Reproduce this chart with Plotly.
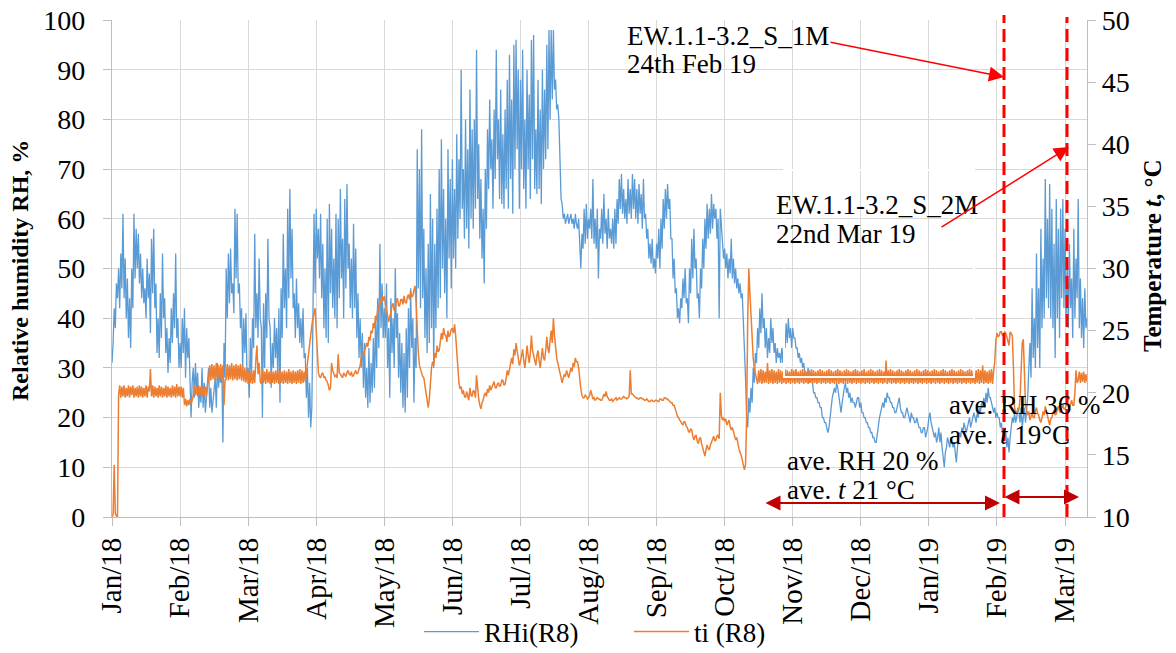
import pandas as pd
import plotly.graph_objects as go

# RHi(R8), %  - two readings a day, one block per 31-day tick interval
rh_jan18 = [31, 35, 42, 38, 47, 44, 50, 42, 53, 46, 61, 44, 52, 40, 48, 36, 44, 34, 50, 42,
            61, 48, 58, 50, 57, 47, 53, 44, 50, 43, 46, 40, 52, 44, 49, 37, 56, 45, 58, 42,
            47, 33, 40, 32, 45, 36, 53, 40, 44, 33, 38, 29, 36, 31, 42, 35, 45, 38, 53, 36, 40, 30]
rh_feb18 = [35, 30, 40, 33, 42, 28, 38, 32, 36, 26, 20, 27, 30, 24, 31, 25, 29, 22, 26, 23,
            30, 22, 27, 21, 24, 28, 30, 22, 26, 21, 24, 27, 28, 22, 31, 26, 29, 27, 30, 15,
            35, 28, 50, 40, 53, 43, 54, 45, 47, 41, 62, 48, 61, 45, 47, 38, 42, 30, 40, 33, 41, 28]
rh_mar18 = [30, 24, 36, 28, 40, 34, 57, 38, 45, 36, 52, 40, 38, 20, 43, 30, 45, 36, 56, 40,
            38, 26, 35, 30, 40, 32, 38, 28, 42, 23, 46, 36, 57, 42, 50, 38, 62, 44, 66, 48,
            58, 42, 45, 36, 48, 38, 43, 35, 40, 34, 42, 32, 33, 24, 30, 20, 27, 18, 22, 40, 61, 45]
rh_apr18 = [62, 52, 58, 48, 61, 44, 55, 38, 50, 36, 60, 35, 63, 45, 58, 42, 52, 40, 61, 38,
            60, 44, 66, 48, 56, 40, 64, 46, 67, 50, 55, 42, 52, 40, 59, 42, 54, 36, 45, 32,
            40, 30, 37, 26, 35, 24, 30, 22, 34, 23, 31, 25, 36, 26, 40, 30, 44, 34, 55, 38, 47, 36]
rh_may18 = [42, 36, 47, 30, 38, 24, 44, 33, 40, 30, 50, 36, 41, 28, 37, 25, 35, 22, 33, 21,
            38, 24, 42, 30, 46, 34, 40, 23, 36, 30, 74, 46, 70, 42, 78, 44, 58, 36, 50, 33,
            55, 35, 65, 38, 60, 30, 55, 38, 62, 42, 70, 44, 76, 50, 66, 45, 60, 40, 74, 52, 68, 46]
rh_jun18 = [72, 52, 66, 50, 77, 56, 72, 60, 90, 62, 70, 56, 80, 58, 74, 54, 86, 60, 78, 58,
            80, 62, 94, 64, 75, 56, 68, 52, 62, 47, 70, 58, 78, 66, 84, 70, 76, 62, 82, 68,
            94, 72, 80, 64, 86, 63, 77, 62, 82, 66, 88, 62, 93, 68, 84, 61, 95, 70, 96, 74, 90, 62]
rh_jul18 = [88, 70, 94, 66, 80, 62, 90, 70, 85, 64, 96, 72, 97, 66, 78, 65, 88, 66, 82, 63,
            90, 70, 86, 72, 95, 74, 98, 80, 98, 84, 98, 86, 88, 82, 83, 80, 70, 64, 63, 60,
            61, 59, 60, 61, 59, 60, 61, 59, 60, 58, 61, 59, 58, 60, 56, 50, 57, 54, 62, 55, 63, 56]
rh_aug18 = [60, 58, 62, 56, 68, 55, 60, 54, 62, 48, 58, 56, 62, 55, 65, 57, 60, 54, 62, 56,
            58, 55, 60, 54, 62, 55, 64, 59, 68, 62, 69, 61, 66, 60, 64, 59, 68, 61, 66, 60,
            69, 62, 68, 60, 66, 59, 67, 61, 65, 58, 68, 60, 61, 56, 58, 52, 55, 51, 56, 50, 52, 49]
rh_sep18 = [55, 52, 58, 50, 60, 54, 64, 58, 66, 60, 67, 62, 64, 56, 56, 48, 52, 45, 46, 40,
            42, 39, 44, 42, 48, 44, 50, 43, 44, 39, 50, 45, 56, 48, 58, 50, 52, 44, 45, 40,
            50, 46, 56, 50, 60, 54, 63, 56, 62, 57, 65, 58, 63, 60, 62, 56, 60, 40, 62, 58, 56, 52]
rh_oct18 = [54, 50, 53, 48, 52, 49, 56, 48, 52, 47, 50, 46, 48, 45, 47, 44, 45, 40, 36, 28,
            20, 18, 24, 21, 26, 23, 30, 27, 33, 31, 38, 34, 42, 37, 45, 38, 40, 34, 38, 32,
            36, 33, 40, 35, 38, 33, 35, 31, 34, 32, 33, 31, 34, 31, 36, 34, 39, 35, 40, 36, 38, 34]
rh_nov18 = [38, 36, 36, 34, 34, 32, 33, 31, 32, 30, 31, 29, 29, 28, 30, 27, 29, 28, 27, 25,
            25, 24, 24, 23, 23, 22, 22, 20, 20, 19, 19, 18, 17, 18, 20, 23, 24, 25, 26, 25,
            27, 26, 24, 22, 21, 23, 25, 26, 27, 25, 26, 24, 25, 23, 24, 23, 23, 22, 23, 24, 24, 22]
rh_dec18 = [23, 21, 21, 20, 20, 19, 19, 18, 18, 17, 17, 16, 16, 15, 15, 17, 18, 20, 21, 22,
            23, 22, 24, 23, 25, 24, 24, 23, 23, 22, 22, 21, 21, 22, 23, 24, 22, 21, 21, 20,
            20, 21, 22, 21, 20, 19, 21, 20, 20, 19, 19, 20, 19, 18, 18, 17, 17, 18, 18, 16, 17, 18]
rh_jan19 = [20, 21, 19, 18, 17, 16, 17, 15, 16, 18, 15, 17, 14, 12, 10, 13, 14, 16, 15, 14,
            16, 15, 14, 15, 13, 11, 14, 16, 17, 16, 18, 17, 19, 18, 17, 18, 19, 20, 18, 19,
            20, 21, 20, 19, 21, 20, 22, 21, 23, 22, 24, 22, 25, 23, 26, 24, 24, 23, 22, 21, 22, 20]
rh_feb19 = [21, 20, 20, 18, 19, 17, 18, 16, 17, 14, 16, 13, 16, 18, 20, 19, 21, 19, 20, 22,
            21, 19, 22, 18, 20, 22, 19, 21, 24, 30, 35, 28, 46, 32, 40, 30, 53, 34, 46, 30,
            58, 38, 52, 40, 68, 44, 60, 42, 67, 40, 62, 38, 55, 32, 64, 40, 58, 36, 62, 44, 64, 42]
rh_mar19 = [58, 40, 50, 38, 55, 42, 48, 36, 58, 40, 52, 44, 64, 38, 48, 36, 44, 34, 46, 38, 40, 37]

# ti (R8), degC - two readings a day, same blocks
t_jan18 = [10.0, 10.2, 14.2, 10.3, 10.1, 10.0, 19.8, 20.6,
           19.6, 20.5, 19.7, 20.6, 19.6, 20.4, 19.7, 20.6, 19.6, 20.5, 19.8, 20.6, 19.6, 20.4, 19.7, 20.5, 19.6, 20.6, 19.7, 20.5,
           19.6, 20.4, 19.7, 20.6, 19.6, 20.5, 20.1, 21.9, 19.7, 20.6, 19.6, 20.5, 19.7, 20.4, 19.6, 20.6, 19.7, 20.5, 19.6, 20.4,
           19.7, 20.6, 19.6, 20.5, 19.7, 20.4, 19.6, 20.6, 19.7, 20.5, 19.6, 20.7, 19.7, 20.5]
t_feb18 = [19.7, 20.5, 19.6, 20.4,
           19.0, 19.5, 18.9, 19.4, 19.0, 19.5, 19.1, 19.4,
           19.7, 20.6, 19.8, 20.5, 19.7, 20.6, 19.8, 20.5, 19.7, 20.6, 19.8, 20.5, 19.7, 20.6,
           21.1, 22.2, 21.0, 22.3, 21.1, 22.2, 21.0, 22.4, 21.1, 22.2, 21.0, 22.3, 21.1, 22.2, 19.0, 21.0,
           21.1, 22.3, 21.0, 22.2, 21.1, 22.4, 21.0, 22.2, 21.1, 22.3, 21.0, 22.2, 21.1, 22.3, 21.0, 22.2,
           20.9, 22.0, 20.8, 21.9]
t_mar18 = [20.7, 21.8, 20.8, 21.7, 20.7, 21.8, 20.8, 22.6, 23.8, 21.5, 22.4, 20.9,
           20.7, 21.8, 20.8, 21.7, 20.7, 21.9, 20.8, 21.7, 20.7, 21.8, 20.8, 21.7, 20.7, 21.8, 20.8, 21.9, 20.7, 21.8, 20.8, 21.7,
           20.7, 21.8, 20.8, 21.7, 20.7, 21.9, 20.8, 21.7, 20.7, 21.8, 20.8, 21.7, 20.7, 21.8, 20.8, 21.9, 20.7, 21.8, 20.8, 21.7,
           20.9, 21.6, 22.4, 23.4, 24.3, 25.0, 25.4, 26.0, 26.4, 26.8]
t_apr18 = [25.0, 22.5, 21.6, 21.3, 21.2, 21.5, 21.6, 21.2, 21.3, 21.0, 20.9, 20.6, 20.2, 20.4, 22.4, 21.8,
           21.5, 21.3, 21.4, 21.2, 23.1, 21.6, 21.5, 21.3, 21.2, 21.6, 21.4, 21.3, 21.6, 21.8, 21.5, 21.4,
           21.7, 21.3, 21.4, 21.6, 21.8, 21.5, 21.6, 21.9, 22.2, 22.8, 23.2, 23.0, 23.4, 23.8, 24.0, 23.7,
           24.5, 24.2, 25.0, 24.8, 25.6, 25.2, 26.2, 25.8, 26.8, 26.5, 27.5, 27.1, 27.8, 27.4]
t_may18 = [27.8, 27.2, 26.8, 26.2, 25.7, 26.3, 26.5, 27.0, 27.2, 26.6, 26.8, 27.4, 27.6, 27.0, 27.0, 27.5,
           27.5, 27.1, 27.8, 27.3, 27.2, 27.7, 27.9, 27.5, 28.2, 27.7, 27.8, 28.3, 28.6, 27.2, 25.0, 23.2,
           22.2, 21.8, 21.6, 21.3, 21.2, 20.6, 20.0, 19.4, 18.8, 19.5, 21.0, 22.0, 22.5, 22.2, 23.2, 22.8,
           23.8, 23.3, 23.4, 24.0, 24.8, 24.3, 25.2, 24.7, 24.6, 24.1, 25.0, 24.5, 24.7, 25.1]
t_jun18 = [25.2, 24.8, 25.5, 24.6, 23.0, 21.6, 20.8, 20.3, 20.5, 19.9, 20.2, 19.7, 19.6, 20.1, 19.8, 19.4,
           20.4, 19.8, 19.7, 20.2, 20.1, 19.6, 21.4, 20.2, 19.5, 19.0, 18.7, 19.2, 19.4, 19.8, 20.0, 19.7,
           20.3, 20.0, 20.6, 20.2, 20.5, 20.8, 20.9, 20.4, 20.4, 20.7, 20.8, 20.5, 20.6, 21.0, 21.0, 20.6,
           20.7, 21.2, 21.8, 21.4, 22.0, 22.4, 22.8, 22.3, 23.5, 23.0, 24.0, 23.4, 22.8, 22.2]
t_jul18 = [22.5, 23.0, 23.5, 22.6, 22.0, 22.8, 23.8, 23.0, 22.4, 23.2, 24.6, 23.4, 23.0, 22.4, 22.2, 23.0,
           23.4, 22.6, 22.0, 22.8, 23.6, 22.8, 22.6, 23.4, 24.5, 23.6, 23.2, 24.2, 25.0, 24.0, 26.0, 24.6,
           23.5, 22.8, 22.4, 22.0, 21.5, 21.2, 20.8, 21.2, 21.5, 21.3, 21.8, 21.5, 21.2, 21.6, 22.0, 21.7,
           22.4, 22.1, 22.8, 22.5, 22.5, 22.0, 21.0, 20.3, 19.8, 19.6, 19.6, 19.8, 19.7, 19.5]
t_aug18 = [19.6, 19.8, 20.2, 19.7, 19.5, 19.6, 19.4, 19.5, 19.6, 19.5, 19.5, 19.4, 19.4, 19.6, 19.9, 19.7, 20.1, 19.7, 19.5, 19.4,
           19.4, 19.5, 19.3, 19.4, 19.5, 19.6, 19.4, 19.5, 19.6, 19.5, 19.5, 19.6, 19.7, 19.6, 19.6, 19.5, 19.6, 19.7, 21.8, 19.9,
           19.9, 19.8, 19.7, 19.6, 19.6, 19.5, 19.5, 19.6, 19.6, 19.5, 19.5, 19.4, 19.4, 19.5, 19.4, 19.3, 19.3, 19.4, 19.4, 19.3,
           19.3, 19.4]
t_sep18 = [19.4, 19.3, 19.3, 19.5, 19.5, 19.4, 19.4, 19.6, 19.6, 19.5, 19.5, 19.4, 19.3, 19.2, 19.2, 19.0,
           19.0, 18.6, 18.4, 18.1, 18.0, 17.8, 17.7, 17.5, 17.4, 17.7, 17.6, 17.3, 17.2, 16.9, 16.8, 17.1,
           17.0, 16.5, 16.2, 16.5, 16.6, 16.1, 15.9, 16.3, 16.4, 15.9, 15.6, 15.2, 14.9, 15.4, 15.8, 15.5,
           15.4, 15.8, 16.0, 16.3, 16.5, 16.1, 16.2, 16.5, 16.6, 16.3, 20.0, 18.2, 17.8, 18.0]
t_oct18 = [17.7, 17.9, 17.4, 17.6, 17.8, 17.3, 17.0, 17.2, 16.8, 16.5, 16.2, 16.4, 15.8, 15.5, 15.2, 15.0,
           14.6, 14.3, 13.8, 14.2, 18.0, 26.0, 30.0, 28.0, 26.0, 24.5, 22.8, 22.0, 21.6, 21.2,
           20.7, 21.8, 20.8, 21.9, 20.7, 21.8, 20.8, 21.7, 20.8, 22.4, 20.7, 21.8, 20.8, 21.9, 20.7, 21.8,
           20.8, 21.7, 20.7, 21.9, 20.8, 21.8, 20.7, 21.7, 20.8, 21.9, 20.7, 21.8, 20.8, 21.7, 20.7, 21.9]
t_nov18 = [20.8, 21.8, 20.7, 21.9, 20.8, 21.7, 20.7, 21.8, 20.8, 21.9, 20.7, 21.8, 20.8, 21.7, 20.7, 21.8, 20.8, 21.9, 20.7, 21.8,
           20.8, 21.7, 20.7, 21.8, 20.8, 21.9, 20.7, 21.8, 20.8, 21.7, 20.7, 21.8, 20.8, 21.9, 20.7, 21.8, 20.8, 21.7, 20.7, 21.8,
           20.8, 21.9, 20.7, 21.8, 20.8, 21.7, 20.7, 21.8, 20.8, 21.9, 20.7, 21.8, 20.8, 21.7, 20.7, 21.8, 20.8, 21.9, 20.7, 21.8,
           20.8, 21.7]
t_dec18 = [20.7, 21.8, 20.8, 21.9, 20.7, 21.7, 20.8, 21.8, 20.7, 21.9, 20.8, 21.8, 20.7, 21.7, 20.8, 21.8, 20.7, 21.9, 20.8, 21.8,
           20.7, 21.7, 20.8, 22.6, 20.7, 21.8, 20.8, 21.9, 20.7, 21.8, 20.8, 21.7, 20.7, 21.8, 20.8, 21.9, 20.7, 21.8, 20.8, 21.7,
           20.7, 21.8, 20.8, 21.9, 20.7, 21.8, 20.8, 21.7, 20.7, 21.8, 20.8, 21.9, 20.7, 21.8, 20.8, 21.7, 20.7, 21.8, 20.8, 21.9,
           20.7, 21.8]
t_jan19 = [20.8, 21.7, 20.7, 21.8, 20.8, 21.9, 20.7, 21.8, 20.8, 21.7, 20.7, 21.8, 20.8, 21.9, 20.7, 21.8, 20.8, 21.7, 20.7, 21.8,
           20.8, 21.9, 20.7, 21.8, 20.8, 21.7, 20.7, 21.8, 20.8, 21.9, 20.7, 21.8, 20.8, 21.7, 20.7, 21.8, 20.8, 21.9, 20.7, 21.8,
           20.8, 21.7, 20.7, 21.8, 20.8, 21.9, 20.7, 21.8, 20.8, 22.2, 20.7, 21.8, 20.8, 21.7, 20.7, 21.8, 20.8, 21.9, 20.7, 21.8,
           22.5, 24.2]
t_feb19 = [24.8, 24.5, 24.6, 24.9, 24.9, 24.6, 24.7, 24.9, 24.8, 24.5, 24.2, 23.8, 24.9, 24.7, 24.6, 22.0,
           18.8, 18.5, 18.3, 18.7, 18.6, 19.5, 22.0, 24.0, 24.3, 21.0, 19.0, 18.6, 18.2, 18.5, 17.8, 18.1,
           18.4, 18.0, 18.0, 18.6, 18.8, 18.3, 18.2, 17.8, 17.6, 18.0, 18.5, 18.2, 18.9, 18.5, 18.2, 17.8,
           17.4, 17.9, 18.0, 18.4, 18.6, 18.2, 18.3, 18.7, 18.9, 18.5, 18.4, 18.8, 19.0, 18.7]
t_mar19 = [18.7, 19.0, 19.2, 18.9, 18.8, 19.1, 19.4, 19.0, 19.0, 20.0, 21.8, 20.8,
           21.0, 21.7, 20.8, 21.6, 20.9, 21.7, 20.8, 21.5, 20.9, 21.4]

rh = (rh_jan18 + rh_feb18 + rh_mar18 + rh_apr18 + rh_may18 + rh_jun18 + rh_jul18 + rh_aug18
      + rh_sep18 + rh_oct18 + rh_nov18 + rh_dec18 + rh_jan19 + rh_feb19 + rh_mar19)
temp = (t_jan18 + t_feb18 + t_mar18 + t_apr18 + t_may18 + t_jun18 + t_jul18 + t_aug18
        + t_sep18 + t_oct18 + t_nov18 + t_dec18 + t_jan19 + t_feb19 + t_mar19)

rh_time = pd.date_range("2018-01-01", periods=len(rh), freq="12h")
t_time = pd.date_range("2018-01-01", periods=len(temp), freq="12h")

W, H = 1176, 653
ML, MT = 112, 20
PW, PH = 975, 497
MR, MB = W - ML - PW, H - MT - PH
SERIF = "Liberation Serif"
GRID = "#D9D9D9"
AXIS = "#BFBFBF"


# reference pixel -> paper fraction
def px(x):
    return (x - ML) / PW


def py(y):
    return (MT + PH - y) / PH


fig = go.Figure()
fig.add_trace(go.Scatter(x=rh_time, y=rh, name="RHi(R8)", mode="lines",
                         line={"color": "#5B9BD5", "width": 1.3}))
fig.add_trace(go.Scatter(x=t_time, y=temp, name="ti (R8)", mode="lines", yaxis="y2",
                         line={"color": "#ED7D31", "width": 1.5}))

# measurement dates
for xp, ytop in [(1004, 15), (1067, 17)]:
    fig.add_shape(type="line", xref="paper", yref="paper", x0=px(xp), x1=px(xp),
                  y0=0, y1=py(ytop), line={"color": "#FF0000", "width": 3, "dash": "13px,6px"})

# white border of the second label box
fig.add_shape(type="rect", xref="paper", yref="paper", x0=px(784), x1=px(974),
              y0=py(377), y1=py(170), line={"color": "white", "width": 2},
              fillcolor="rgba(0,0,0,0)")

notes = [
    ("EW.1.1-3.2_S_1M", 625, 36), ("24th Feb 19", 625, 64),
    ("EW.1.1-3.2_S_2M", 774, 205), ("22nd Mar 19", 774, 234),
    ("ave. RH 20 %", 785, 461), ("ave. <i>t</i> 21 °C", 785, 490),
    ("ave. RH 36 %", 947, 405), ("ave. <i>t</i> 19°C", 947, 435),
]
for txt, xp, yp in notes:
    fig.add_annotation(text=txt, xref="paper", yref="paper", x=px(xp), y=py(yp),
                       xanchor="left", yanchor="middle", showarrow=False,
                       font={"family": SERIF, "size": 27, "color": "black"})

# pointer arrows (tip x, tip y, tail x, tail y)
for tx, ty, sx, sy in [(1004, 77, 829, 42), (1069, 147, 940, 228)]:
    fig.add_annotation(text="", xref="paper", yref="paper", x=px(tx), y=py(ty),
                       ax=sx - tx, ay=sy - ty, showarrow=True, arrowhead=2,
                       arrowsize=2, arrowwidth=1.5, arrowcolor="#FF0000")

# period arrows
for tx, sx, yy in [(1000, 764, 503), (1079, 1003, 497)]:
    fig.add_annotation(text="", xref="paper", yref="paper", x=px(tx), y=py(yy),
                       ax=sx - tx, ay=0, showarrow=True, arrowside="end+start",
                       arrowhead=2, startarrowhead=2, arrowsize=1.5, startarrowsize=1.5,
                       arrowwidth=2, arrowcolor="#C00000")

# axis titles
fig.add_annotation(text="<b>Relative humidity RH, %</b>", xref="paper", yref="paper",
                   x=px(20), y=py(271), xanchor="center", yanchor="middle",
                   textangle=-90, showarrow=False,
                   font={"family": SERIF, "size": 24, "color": "black"})
fig.add_annotation(text="<b>Temperature <i>t</i>, °C</b>", xref="paper", yref="paper",
                   x=px(1152), y=py(256), xanchor="center", yanchor="middle",
                   textangle=-90, showarrow=False,
                   font={"family": SERIF, "size": 25, "color": "black"})

y_font = {"family": SERIF, "size": 28, "color": "black"}
x_font = {"family": SERIF, "size": 29, "color": "black"}
fig.update_layout(
    width=W, height=H,
    margin={"l": ML, "r": MR, "t": MT, "b": MB, "autoexpand": False},
    paper_bgcolor="white", plot_bgcolor="white",
    font={"family": SERIF, "size": 26, "color": "black"},
    showlegend=True,
    legend={"orientation": "h", "x": px(419), "xanchor": "left", "y": py(632),
            "yanchor": "middle", "font": {"family": SERIF, "size": 27, "color": "black"},
            "bgcolor": "rgba(0,0,0,0)", "entrywidth": 140, "itemwidth": 55},
    xaxis={"type": "date", "range": ["2018-01-01", "2019-03-21"],
           "tick0": "2018-01-01", "dtick": 31 * 86400000, "tickformat": "%b/%y",
           "tickangle": -90, "showgrid": True, "gridcolor": GRID, "gridwidth": 1.3,
           "showline": True, "linecolor": AXIS, "linewidth": 1.3, "ticks": "outside",
           "ticklen": 8, "tickcolor": AXIS, "zeroline": False, "automargin": False,
           "tickfont": x_font, "ticklabeloverflow": "allow"},
    yaxis={"range": [0, 100], "dtick": 10, "showgrid": True, "gridcolor": GRID,
           "gridwidth": 1.3, "showline": True, "linecolor": AXIS, "linewidth": 1.3,
           "ticks": "outside", "ticklen": 8, "tickcolor": AXIS, "zeroline": False,
           "automargin": False, "tickfont": y_font, "ticklabelstandoff": 12,
           "ticklabeloverflow": "allow"},
    yaxis2={"range": [10, 50], "dtick": 5, "overlaying": "y", "side": "right",
            "showgrid": False, "showline": True, "linecolor": AXIS, "linewidth": 1.3,
            "ticks": "outside", "ticklen": 8, "tickcolor": AXIS, "zeroline": False,
            "automargin": False, "tickfont": y_font, "ticklabeloverflow": "allow"},
)

# drop the browser's default page margin so the figure sits at the window corner
fig.write_html("out.html", config={"displayModeBar": False},
               post_script="document.body.style.margin = '0';")
